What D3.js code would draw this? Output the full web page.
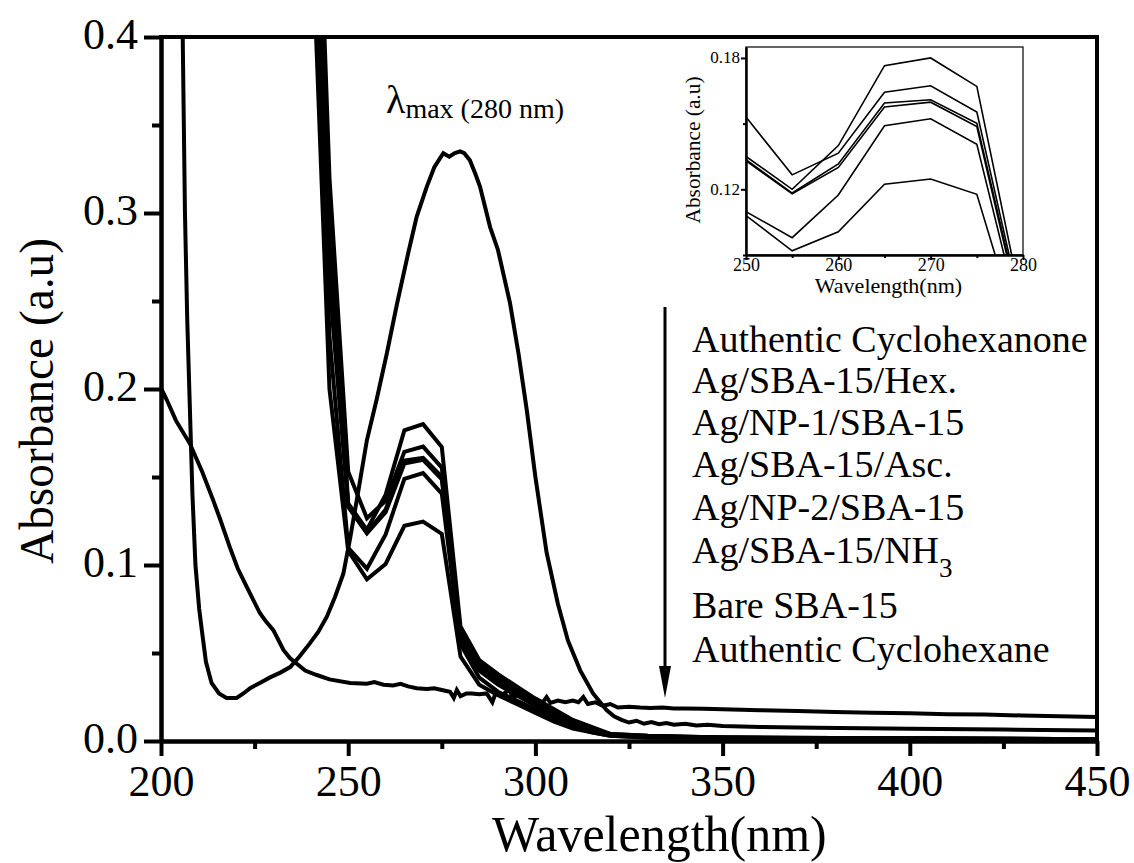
<!DOCTYPE html>
<html>
<head>
<meta charset="utf-8">
<script src="https://cdn.jsdelivr.net/npm/d3@7"></script>
<style>
  html, body { margin: 0; padding: 0; background: #fff; }
  svg { display: block; }
  svg text { font-family: "Liberation Serif", "Times New Roman", Times, "DejaVu Serif", serif !important; fill: #000; }
</style>
</head>
<body>
<svg id="chart" width="1134" height="863"></svg>
<script>
// ---------------- DATA ----------------
const xTicksMajor = [200, 250, 300, 350, 400, 450];
const xTicksMinor = [225, 275, 325, 375, 425];
const yTicksMajor = [0.0, 0.1, 0.2, 0.3, 0.4];
const yTicksMinor = [0.05, 0.15, 0.25, 0.35];

const legendLabels = [
  "Authentic Cyclohexanone",
  "Ag/SBA-15/Hex.",
  "Ag/NP-1/SBA-15",
  "Ag/SBA-15/Asc.",
  "Ag/NP-2/SBA-15",
  "Ag/SBA-15/NH",
  "Bare SBA-15",
  "Authentic Cyclohexane"
];

// sample spectra recorded at 5 nm steps (then coarser in the flat tail)
const stepWave = [240, 245, 250, 255, 260, 265, 270, 275, 280, 285, 290, 295, 300, 305, 310, 315, 320, 330, 350, 400, 450];
const hexAbs  = [0.60, 0.30, 0.135, 0.120, 0.140, 0.1765, 0.180, 0.167, 0.065, 0.046, 0.038, 0.031, 0.024, 0.018, 0.012, 0.008, 0.004, 0.003, 0.002, 0.0015, 0.001];
const np1Abs  = [0.62, 0.32, 0.153, 0.1266, 0.1365, 0.1643, 0.1673, 0.1553, 0.062, 0.044, 0.036, 0.029, 0.023, 0.017, 0.011, 0.007, 0.004, 0.003, 0.002, 0.0015, 0.001];
const ascAbs  = [0.58, 0.28, 0.1335, 0.1183, 0.1316, 0.1594, 0.1609, 0.1502, 0.060, 0.042, 0.034, 0.028, 0.022, 0.016, 0.010, 0.007, 0.0035, 0.0025, 0.002, 0.0015, 0.001];
const np2Abs  = [0.56, 0.26, 0.133, 0.118, 0.130, 0.1576, 0.1598, 0.1487, 0.058, 0.040, 0.032, 0.026, 0.020, 0.015, 0.009, 0.006, 0.0035, 0.0025, 0.002, 0.0012, 0.001];
const nh3Abs  = [0.52, 0.23, 0.1098, 0.0979, 0.1174, 0.149, 0.1522, 0.1406, 0.055, 0.036, 0.028, 0.023, 0.018, 0.013, 0.008, 0.005, 0.003, 0.002, 0.0015, 0.001, 0.001];
const bareAbs = [0.48, 0.20, 0.108, 0.0919, 0.1006, 0.1223, 0.1247, 0.1177, 0.048, 0.032, 0.026, 0.021, 0.016, 0.011, 0.007, 0.005, 0.003, 0.002, 0.0015, 0.001, 0.001];

// Authentic cyclohexanone (lambda max 280 nm)
const ketoneWave = [204.8, 205.8, 206.4, 207.0, 207.7, 208.4, 209.2, 210.2, 210.9, 212.0, 213.5, 215.5, 217.5, 220.2, 222.0, 223.8, 226.4, 229.0, 232.0, 234.5, 237.0, 239.8, 242.0, 244.3, 246.5, 248.7, 250.5, 252.3, 255.0, 257.6, 260.3, 263.0, 266.0, 268.3, 271.0, 273.0, 275.4, 277.0, 278.5, 279.9, 281.0, 282.5, 284.0, 285.2, 287.9, 290.0, 293.2, 295.5, 297.7, 300.0, 303.0, 306.0, 308.7, 312.0, 315.4, 319.0, 321.0, 323.0, 325.0, 327.0, 329.0, 331.0, 333.0, 335.0, 337.0, 340.0, 343.0, 346.0, 350.0, 360.0, 375.0, 400.0, 425.0, 450.0];
const ketoneAbs  = [0.70, 0.40, 0.30, 0.24, 0.19, 0.14, 0.10, 0.075, 0.063, 0.045, 0.033, 0.027, 0.0245, 0.0245, 0.027, 0.030, 0.033, 0.036, 0.039, 0.042, 0.048, 0.0556, 0.062, 0.0706, 0.082, 0.095, 0.115, 0.137, 0.171, 0.194, 0.220, 0.248, 0.277, 0.298, 0.315, 0.326, 0.334, 0.332, 0.334, 0.335, 0.334, 0.330, 0.322, 0.315, 0.292, 0.279, 0.249, 0.220, 0.188, 0.150, 0.107, 0.078, 0.057, 0.040, 0.027, 0.0176, 0.014, 0.012, 0.0105, 0.0115, 0.0098, 0.0108, 0.0095, 0.0102, 0.0092, 0.0098, 0.0088, 0.0092, 0.0085, 0.0080, 0.0075, 0.0070, 0.0065, 0.0060];

// Authentic cyclohexane
const alkaneWave = [200.0, 201.5, 204.0, 207.7, 211.0, 213.9, 215.8, 218.4, 220.5, 222.9, 226.4, 228.0, 230.0, 232.7, 234.5, 236.2, 238.5, 241.6, 245.0, 250.5, 255.0, 257.0, 259.4, 262.0, 264.0, 266.0, 268.3, 271.0, 273.0, 275.0, 277.2, 278.2, 279.0, 280.0, 281.6, 283.0, 285.0, 287.0, 288.5, 289.5, 291.0, 293.0, 294.0, 296.0, 298.0, 300.0, 302.0, 303.0, 304.0, 306.0, 308.0, 310.0, 311.5, 312.8, 314.0, 316.0, 318.0, 320.0, 322.0, 325.0, 328.0, 330.6, 334.0, 337.0, 340.0, 345.0, 350.0, 360.0, 370.0, 380.0, 390.0, 400.0, 410.0, 420.0, 430.0, 440.0, 450.0];
const alkaneAbs  = [0.2005, 0.194, 0.182, 0.169, 0.153, 0.137, 0.126, 0.110, 0.098, 0.0876, 0.0727, 0.068, 0.063, 0.0517, 0.047, 0.044, 0.040, 0.0375, 0.035, 0.033, 0.0325, 0.0335, 0.032, 0.0315, 0.0325, 0.031, 0.030, 0.0295, 0.030, 0.029, 0.028, 0.0245, 0.0290, 0.0255, 0.027, 0.027, 0.0265, 0.027, 0.022, 0.028, 0.026, 0.029, 0.025, 0.0265, 0.025, 0.024, 0.022, 0.025, 0.0216, 0.023, 0.022, 0.023, 0.022, 0.025, 0.021, 0.022, 0.020, 0.021, 0.019, 0.0195, 0.019, 0.0188, 0.019, 0.0185, 0.0185, 0.0183, 0.018, 0.0175, 0.017, 0.0165, 0.016, 0.0158, 0.0152, 0.015, 0.0145, 0.014, 0.0137];

// inset
const insetXTicksMajor = [250, 260, 270, 280];
const insetXTicksMinor = [255, 265, 275];
const insetYTicksMajor = [0.12, 0.18];
const insetYTicksMinor = [0.09, 0.15];

// ---------------- DRAW ----------------
const FONT = '"Liberation Serif", "Times New Roman", Times, "DejaVu Serif", serif';
const svg = d3.select("#chart");
svg.append("rect").attr("width", 1134).attr("height", 863).attr("fill", "#fff");

const x = d3.scaleLinear().domain([200, 450]).range([161, 1097]);
const y = d3.scaleLinear().domain([0, 0.4]).range([741, 37]);

const defs = svg.append("defs");
defs.append("clipPath").attr("id", "mainClip").append("rect")
  .attr("x", x(200)).attr("y", y(0.4)).attr("width", x(450) - x(200)).attr("height", y(0) - y(0.4));

const zip = (w, a) => w.map((v, i) => [v, a[i]]);
const sampleSeries = [hexAbs, np1Abs, ascAbs, np2Abs, nh3Abs, bareAbs].map(a => zip(stepWave, a));
const ketone = zip(ketoneWave, ketoneAbs);
const alkane = zip(alkaneWave, alkaneAbs);

const line = d3.line().x(d => x(d[0])).y(d => y(d[1]));
const curves = svg.append("g").attr("clip-path", "url(#mainClip)");
[alkane, ketone, ...sampleSeries].forEach(s => {
  curves.append("path").attr("d", line(s))
    .attr("fill", "none").attr("stroke", "#000").attr("stroke-width", 4)
    .attr("stroke-linejoin", "miter");
});

// axes
function styleAxis(g, w) {
  g.attr("font-family", FONT);
  g.selectAll("path.domain").attr("stroke", "#000").attr("stroke-width", w);
  g.selectAll(".tick line").attr("stroke", "#000").attr("stroke-width", w);
  g.selectAll(".tick text").style("font-family", FONT);
}
const xMaj = svg.append("g").attr("transform", `translate(0,${y(0)})`)
  .call(d3.axisBottom(x).tickValues(xTicksMajor).tickSize(15).tickSizeOuter(0).tickPadding(0).tickFormat(d3.format("d")));
styleAxis(xMaj, 4);
xMaj.selectAll(".tick text").attr("font-size", 44).attr("y", 55).attr("dy", 0);
const xMin = svg.append("g").attr("transform", `translate(0,${y(0)})`)
  .call(d3.axisBottom(x).tickValues(xTicksMinor).tickSize(8).tickSizeOuter(0).tickFormat(""));
styleAxis(xMin, 4);

const yMaj = svg.append("g").attr("transform", `translate(${x(200)},0)`)
  .call(d3.axisLeft(y).tickValues(yTicksMajor).tickSize(17).tickSizeOuter(0).tickFormat(d3.format(".1f")));
styleAxis(yMaj, 4);
yMaj.selectAll(".tick text").attr("font-size", 44).attr("x", -23).attr("dy", 11);
const yMin = svg.append("g").attr("transform", `translate(${x(200)},0)`)
  .call(d3.axisLeft(y).tickValues(yTicksMinor).tickSize(9).tickSizeOuter(0).tickFormat(""));
styleAxis(yMin, 4);

// frame (top & right)
svg.append("path")
  .attr("d", `M${x(200)},${y(0.4)} H${x(450)} V${y(0)}`)
  .attr("fill", "none").attr("stroke", "#000").attr("stroke-width", 4).attr("stroke-linecap", "square");

// axis titles
svg.append("text").attr("x", 492).attr("y", 851).attr("font-size", 50).style("font-family", FONT).text("Wavelength(nm)");
svg.append("text").attr("transform", "translate(53,401) rotate(-90)")
  .attr("text-anchor", "middle").attr("font-size", 48).style("font-family", FONT)
  .attr("textLength", 326).attr("lengthAdjust", "spacingAndGlyphs")
  .text("Absorbance (a.u)");

// lambda max annotation
const lam = svg.append("text").attr("x", 386).attr("y", 113).style("font-family", FONT);
lam.append("tspan").attr("font-size", 40).text("λ");
lam.append("tspan").attr("font-size", 28).attr("dy", 5).text("max (280 nm)");

// legend list with arrow
const legendY = [352, 393, 435, 477, 520, 563, 618, 662];
const leg = svg.append("g");
legendLabels.forEach((t, i) => {
  const tx = leg.append("text").attr("x", 692).attr("y", legendY[i]).attr("font-size", 38).style("font-family", FONT).text(t);
  if (t === "Ag/SBA-15/NH") {
    tx.append("tspan").attr("font-size", 27).attr("dy", 14).text("3");
  }
});
leg.append("line").attr("x1", 665).attr("x2", 665).attr("y1", 307).attr("y2", 670)
  .attr("stroke", "#000").attr("stroke-width", 3);
leg.append("path").attr("d", "M659,666 L671,666 L665,698 Z").attr("fill", "#000");

// ---------------- INSET ----------------
const ix = d3.scaleLinear().domain([250, 280]).range([746, 1023]);
const iy = d3.scaleLinear().domain([0.09, 0.185]).range([255, 47]);
defs.append("clipPath").attr("id", "insetClip").append("rect")
  .attr("x", ix(250)).attr("y", iy(0.185)).attr("width", ix(280) - ix(250)).attr("height", iy(0.09) - iy(0.185));
svg.append("rect").attr("x", ix(250)).attr("y", iy(0.185)).attr("width", ix(280) - ix(250)).attr("height", iy(0.09) - iy(0.185))
  .attr("fill", "#fff").attr("stroke", "#000").attr("stroke-width", 1.2);
const iline = d3.line().x(d => ix(d[0])).y(d => iy(d[1]));
const ig = svg.append("g").attr("clip-path", "url(#insetClip)");
sampleSeries.forEach(s => {
  ig.append("path").attr("d", iline(s)).attr("fill", "none").attr("stroke", "#000").attr("stroke-width", 1.6);
});
const ixMaj = svg.append("g").attr("transform", `translate(0,${iy(0.09)})`)
  .call(d3.axisBottom(ix).tickValues(insetXTicksMajor).tickSize(5).tickSizeOuter(0).tickPadding(0).tickFormat(d3.format("d")));
styleAxis(ixMaj, 2);
ixMaj.selectAll(".tick text").attr("font-size", 18).attr("y", 16).attr("dy", 0);
const ixMin = svg.append("g").attr("transform", `translate(0,${iy(0.09)})`)
  .call(d3.axisBottom(ix).tickValues(insetXTicksMinor).tickSize(3).tickSizeOuter(0).tickFormat(""));
styleAxis(ixMin, 2);
const iyMaj = svg.append("g").attr("transform", `translate(${ix(250)},0)`)
  .call(d3.axisLeft(iy).tickValues(insetYTicksMajor).tickSize(5).tickSizeOuter(0).tickPadding(1).tickFormat(d3.format(".2f")));
styleAxis(iyMaj, 2);
iyMaj.selectAll(".tick text").attr("font-size", 17).attr("dy", 5);
const iyMin = svg.append("g").attr("transform", `translate(${ix(250)},0)`)
  .call(d3.axisLeft(iy).tickValues(insetYTicksMinor).tickSize(3).tickSizeOuter(0).tickFormat(""));
styleAxis(iyMin, 2);
svg.append("text").attr("x", (ix(250) + ix(280)) / 2 + 4).attr("y", 293).attr("text-anchor", "middle")
  .attr("font-size", 22).style("font-family", FONT).text("Wavelength(nm)");
svg.append("text").attr("transform", `translate(700,150) rotate(-90)`).attr("text-anchor", "middle")
  .attr("font-size", 21).style("font-family", FONT).attr("textLength", 147).attr("lengthAdjust", "spacingAndGlyphs")
  .text("Absorbance (a.u)");
</script>
</body>
</html>
